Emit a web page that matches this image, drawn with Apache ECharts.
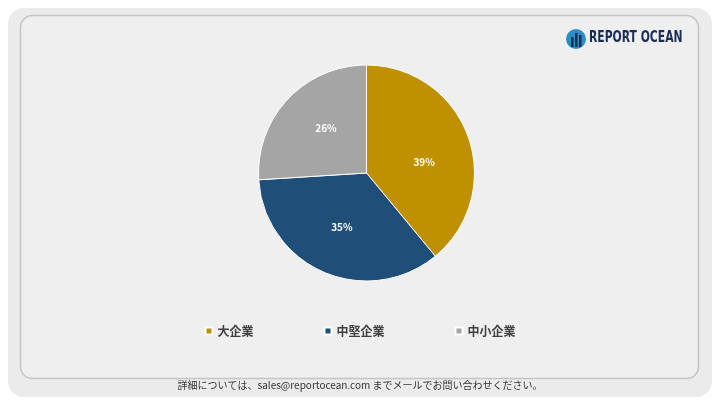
<!DOCTYPE html>
<html><head><meta charset="utf-8">
<script src="https://cdn.jsdelivr.net/npm/echarts@6/dist/echarts.min.js"></script>
<style>html,body{margin:0;padding:0;background:#fff}#c{width:720px;height:405px}</style>
</head><body><div id="c"></div>
<script>
const categories = ['大企業', '中堅企業', '中小企業'];
const values = [39, 35, 26];
const colors = ['#BF9000', '#1F4E79', '#A5A5A5'];
const footer = '詳細については、sales@reportocean.com までメールでお問い合わせください。';
const font = '"Noto Sans CJK JP", "Noto Sans", sans-serif';
const labelOffsets = [[4, 9], [-2, 2], [1, -6]];

const chart = echarts.init(document.getElementById('c'));
chart.setOption({
  animation: false,
  graphic: [
    { type: 'rect', shape: { x: 8, y: 8, width: 704, height: 389, r: 16 }, style: { fill: '#ebebeb' }, z: -10 },
    { type: 'rect', shape: { x: 20.5, y: 15.5, width: 678, height: 363, r: 12 }, style: { fill: '#efefef', stroke: '#c4c4c4', lineWidth: 1.5 }, z: -9 },
    { type: 'text', left: 'center', top: 380, style: { text: footer, fill: '#333', font: '10px ' + font } },
    { type: 'circle', shape: { cx: 576, cy: 39, r: 10 }, style: { fill: '#2a8fc4' } },
    { type: 'rect', shape: { x: 571, y: 37, width: 2.5, height: 10 }, style: { fill: '#1a2d5a' } },
    { type: 'rect', shape: { x: 575, y: 33, width: 2.5, height: 14 }, style: { fill: '#1a2d5a' } },
    { type: 'rect', shape: { x: 579, y: 35, width: 2.5, height: 12 }, style: { fill: '#1a2d5a' } },
    { type: 'text', x: 589, y: 31, scaleX: 0.8, style: { text: 'REPORT OCEAN', fill: '#1a2d5a', font: 'bold 15px "DejaVu Sans Condensed", "Liberation Sans Narrow", sans-serif' } }
  ],
  legend: {
    data: categories,
    left: 'center',
    top: 320,
    icon: 'rect',
    itemWidth: 7,
    itemHeight: 7,
    itemGap: 70,
    textStyle: { color: '#404040', fontSize: 12, fontWeight: 'bold', fontFamily: font }
  },
  series: [{
    type: 'pie',
    center: [366.5, 173],
    radius: 108,
    startAngle: 90,
    clockwise: true,
    color: colors,
    itemStyle: { borderColor: '#ffffff', borderWidth: 1 },
    label: {
      show: true, position: 'inside',
      formatter: '{c}%',
      color: '#ffffff', fontSize: 10, fontWeight: 'bold', fontFamily: font
    },
    labelLine: { show: false },
    data: categories.map((n, i) => ({ name: n, value: values[i], label: { offset: labelOffsets[i] } }))
  }]
});
</script></body></html>
